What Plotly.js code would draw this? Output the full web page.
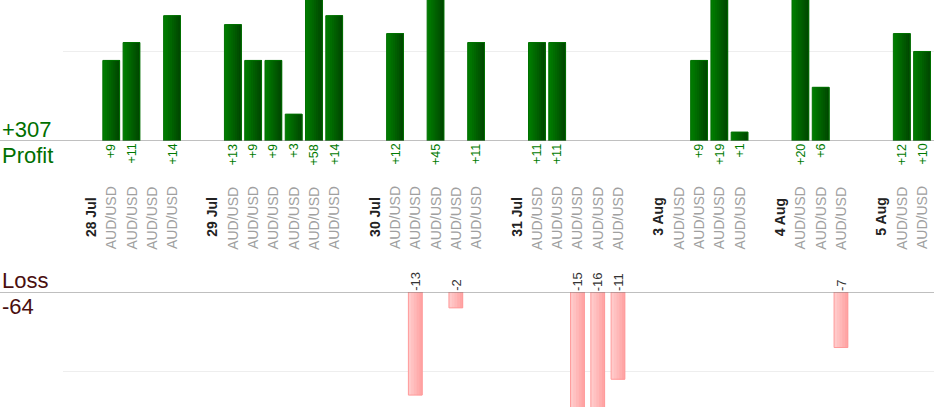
<!DOCTYPE html>
<html>
<head>
<meta charset="utf-8">
<script src="https://cdn.plot.ly/plotly-3.0.1.min.js"></script>
<style>
  html, body { margin: 0; padding: 0; background: #fff; }
  #chart { width: 934px; height: 420px; }
</style>
</head>
<body>
<div id="chart"></div>
<script>
// trading days and the result of each trade (0 = flat trade, no bar)
const days = ['28 Jul', '29 Jul', '30 Jul', '31 Jul', '3 Aug', '4 Aug', '5 Aug'];
const results = [
    [9, 11, 0, 14],
    [13, 9, 9, 3, 58, 14],
    [12, -13, 45, -2, 11],
    [11, 11, -15, -16, -11],
    [0, 9, 19, 1],
    [20, 6, -7],
    [12, 10]
];
const symbol = 'AUD/USD';
const profitTitle = 'Profit';
const lossTitle = 'Loss';

const FONT = '"Liberation Sans", Arial, sans-serif';

// lay out one slot per day header, one per trade and a spacer after each day
const dayX = [];
const tradeX = [];
const tradeVal = [];
let slot = 0;
days.forEach((day, i) => {
    dayX.push(slot++);
    results[i].forEach(v => {
        tradeX.push(slot++);
        tradeVal.push(v);
    });
    slot++;
});

const profitX = [], profitY = [], lossX = [], lossY = [];
tradeX.forEach((x, i) => {
    const v = tradeVal[i];
    if (v > 0) { profitX.push(x); profitY.push(v); }
    if (v < 0) { lossX.push(x); lossY.push(v); }
});
const totalProfit = profitY.reduce((a, b) => a + b, 0);
const totalLoss = lossY.reduce((a, b) => a + b, 0);

function mix(c1, c2, t) {
    const c = c1.map((v, k) => Math.round(v + (c2[k] - v) * t));
    return `rgb(${c[0]},${c[1]},${c[2]})`;
}

// fake a left-to-right gradient: each layer starts a bit further right
// and runs to the bar's right edge, so there are no seams between them
function gradientBars(x, y, yaxis, width, from, to, edge, n) {
    const traces = [];
    const step = width / n;
    for (let i = 0; i < n; i++) {
        traces.push({
            type: 'bar', x, y, yaxis,
            width: width - i * step, offset: -width / 2 + i * step,
            marker: { color: mix(from, to, i / (n - 1)), line: { width: 0 } },
            hoverinfo: 'skip', showlegend: false
        });
    }
    traces.push({
        type: 'bar', x, y, yaxis,
        width, offset: -width / 2,
        marker: { color: 'rgba(0,0,0,0)', line: { color: edge, width: 1 } },
        hoverinfo: 'skip', showlegend: false
    });
    return traces;
}

const data = [
    ...gradientBars(profitX, profitY, 'y', 0.83, [0, 124, 0], [0, 72, 0], '#007000', 8),
    ...gradientBars(lossX, lossY, 'y2', 0.68, [255, 202, 202], [255, 165, 165], '#ff9a9a', 5)
];

const annotations = [];
profitX.forEach((x, i) => annotations.push({
    x, y: 0, xref: 'x', yref: 'y', text: '+' + profitY[i],
    textangle: -90, yanchor: 'top', showarrow: false, yshift: -1,
    font: { family: FONT, size: 12.5, color: '#007a00' }
}));
lossX.forEach((x, i) => annotations.push({
    x, y: 0, xref: 'x', yref: 'y2', text: String(lossY[i]),
    textangle: -90, yanchor: 'bottom', showarrow: false, yshift: -1,
    font: { family: FONT, size: 13, color: '#333' }
}));
dayX.forEach((x, i) => annotations.push({
    x, y: 0.483, xref: 'x', yref: 'paper', text: '<b>' + days[i] + '</b>',
    textangle: -90, showarrow: false,
    font: { family: FONT, size: 14, color: '#222' }
}));
tradeX.forEach(x => annotations.push({
    x, y: 0.481, xref: 'x', yref: 'paper', text: symbol,
    textangle: -90, showarrow: false,
    font: { family: FONT, size: 14, color: '#a0a0a0' }
}));

const leftX = -63 / 871;
annotations.push(
    { x: leftX, y: 0, xref: 'paper', yref: 'y', text: '+' + totalProfit, xanchor: 'left', yanchor: 'bottom',
      yshift: -3, showarrow: false, font: { family: FONT, size: 22, color: '#006f00' } },
    { x: leftX, y: 0, xref: 'paper', yref: 'y', text: profitTitle, xanchor: 'left', yanchor: 'top',
      showarrow: false, font: { family: FONT, size: 22, color: '#006f00' } },
    { x: leftX, y: 0, xref: 'paper', yref: 'y2', text: lossTitle, xanchor: 'left', yanchor: 'bottom',
      yshift: -3, showarrow: false, font: { family: FONT, size: 22, color: '#4a0f0f' } },
    { x: leftX, y: 0, xref: 'paper', yref: 'y2', text: String(totalLoss), xanchor: 'left', yanchor: 'top',
      showarrow: false, font: { family: FONT, size: 22, color: '#4a0f0f' } }
);

const baseline = yref => ({
    type: 'line', xref: 'paper', yref, x0: leftX, x1: 1, y0: 0, y1: 0,
    line: { color: '#808080', width: 1 }
});

const layout = {
    width: 934, height: 420,
    margin: { l: 63, r: 0, t: 0, b: 0 },
    paper_bgcolor: '#fff', plot_bgcolor: '#fff',
    font: { family: FONT },
    barmode: 'overlay',
    showlegend: false,
    xaxis: {
        range: [-1.38, 41.59], showticklabels: false, showgrid: false,
        zeroline: false, ticks: '', fixedrange: true
    },
    yaxis: {
        domain: [1 - 141 / 420, 1], range: [0, 15.75], dtick: 10,
        showticklabels: false, gridcolor: '#eeeeee', zeroline: false, fixedrange: true
    },
    yaxis2: {
        domain: [1 - 407 / 420, 1 - 292 / 420], range: [-14.5, 0], dtick: 10,
        anchor: 'x', showticklabels: false, gridcolor: '#eeeeee', zeroline: false, fixedrange: true
    },
    annotations,
    shapes: [baseline('y'), baseline('y2')]
};

Plotly.newPlot('chart', data, layout, { displayModeBar: false, staticPlot: true });
</script>
</body>
</html>
